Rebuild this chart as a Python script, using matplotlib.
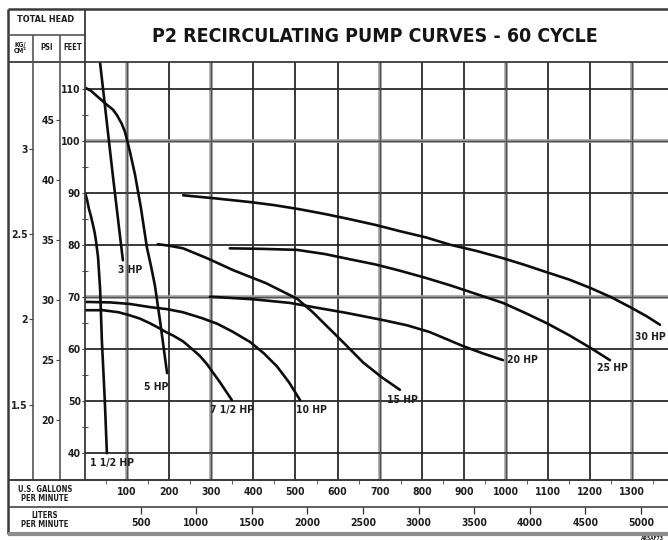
import os
import matplotlib
matplotlib.use("Agg")
import matplotlib.pyplot as plt
import matplotlib.font_manager as fm
from matplotlib.lines import Line2D
from matplotlib.font_manager import FontProperties

# ---------------- data (U.S. gpm, head in feet) ----------------
gpm_1_5 = [0, 5, 9, 14, 19, 23, 26, 31, 36, 40, 47, 52]
ft_1_5 = [90.0, 88.6, 87.0, 85.5, 83.8, 82.3, 80.8, 77.6, 71.3, 61.7, 50.1, 39.9]

gpm_3 = [33, 66, 90]
ft_3 = [117.0, 93.4, 77.0]

gpm_5 = [0, 14, 28, 52, 66, 76, 87, 95, 107, 119, 133, 147, 157, 166, 178, 195]
ft_5 = [110.2, 109.6, 108.6, 106.9, 106.0, 104.9, 103.3, 101.7, 97.8, 93.4, 87.0, 79.5,
        75.8, 72.2, 65.5, 55.3]

gpm_7_5 = [0, 43, 80, 107, 130, 154, 175, 190, 210, 233, 255, 273, 290, 305, 321, 335, 349]
ft_7_5 = [67.4, 67.4, 67.0, 66.4, 65.8, 64.9, 64.0, 63.3, 62.5, 61.4, 59.9, 58.6, 57.0,
          55.3, 53.5, 51.8, 50.1]

gpm_10 = [0, 60, 107, 154, 195, 233, 277, 314, 350, 392, 425, 456, 485, 511]
ft_10 = [69.0, 68.9, 68.6, 68.0, 67.6, 67.0, 65.9, 64.8, 63.3, 61.3, 59.1, 56.6, 53.5, 50.1]

gpm_15 = [173, 200, 233, 290, 352, 430, 504, 540, 575, 620, 660, 705, 748]
ft_15 = [80.1, 79.8, 79.3, 77.4, 75.1, 72.6, 69.6, 67.1, 64.3, 60.7, 57.4, 54.5, 52.1]

gpm_20 = [297, 400, 487, 542, 620, 708, 765, 819, 860, 898, 945, 993]
ft_20 = [70.0, 69.5, 68.8, 68.0, 66.9, 65.5, 64.5, 63.2, 61.8, 60.5, 59.1, 57.8]

gpm_25 = [344, 420, 504, 570, 629, 690, 748, 810, 867, 930, 993, 1045, 1097, 1150, 1200, 1247]
ft_25 = [79.3, 79.2, 79.0, 78.2, 77.2, 76.2, 75.0, 73.6, 72.2, 70.5, 68.8, 66.9, 64.9,
         62.6, 60.2, 57.8]

gpm_30 = [233, 310, 392, 450, 511, 570, 629, 690, 748, 810, 867, 930, 993, 1045, 1097,
          1150, 1200, 1250, 1295, 1335, 1366]
ft_30 = [89.5, 88.9, 88.2, 87.6, 86.8, 85.9, 84.9, 83.8, 82.6, 81.4, 80.0, 78.8, 77.4,
         76.1, 74.7, 73.3, 71.7, 69.9, 68.0, 66.2, 64.6]

curve_names = ["1 1/2 HP", "3 HP", "5 HP", "7 1/2 HP", "10 HP",
               "15 HP", "20 HP", "25 HP", "30 HP"]
curve_gpm = [gpm_1_5, gpm_3, gpm_5, gpm_7_5, gpm_10, gpm_15, gpm_20, gpm_25, gpm_30]
curve_ft = [ft_1_5, ft_3, ft_5, ft_7_5, ft_10, ft_15, ft_20, ft_25, ft_30]

# label anchor points (gpm, ft)
label_gpm = [64, 107, 169, 349, 539, 755, 1040, 1252, 1342]
label_ft = [38.0, 75.1, 52.6, 48.2, 48.2, 50.1, 57.8, 56.3, 62.2]

gpm_ticks = [100, 200, 300, 400, 500, 600, 700, 800, 900, 1000, 1100, 1200, 1300]
lpm_ticks = [500, 1000, 1500, 2000, 2500, 3000, 3500, 4000, 4500, 5000]
ft_ticks = [40, 50, 60, 70, 80, 90, 100, 110]
psi_ticks = [20, 25, 30, 35, 40, 45]
kg_ticks = [1.5, 2.0, 2.5, 3.0]
kg_labels = ["1.5", "2", "2.5", "3"]

title = "P2 RECIRCULATING PUMP CURVES - 60 CYCLE"

# ---------------- fonts ----------------
def pick_condensed_bold():
    order = ["dejavu", "liberation", "roboto", "noto", "open", "lato", "inter"]
    found = []
    for f in fm.fontManager.ttflist:
        base = os.path.basename(f.fname).lower()
        if ("condensed" in base or "narrow" in base) and "bold" in base:
            if any(b in base for b in ("semi", "extra", "ultra", "italic", "oblique", "light", "black")):
                continue
            rank = next((i for i, k in enumerate(order) if k in base), 99)
            found.append((rank, f.fname))
    if found:
        found.sort()
        return found[0][1]
    return None

cpath = pick_condensed_bold()

def fp(size):
    if cpath:
        return FontProperties(fname=cpath, size=size)
    return FontProperties(family="DejaVu Sans", weight="bold", size=size * 0.85)

TXT = "#1e1e1e"

# ---------------- figure ----------------
W, H = 668, 540
fig = plt.figure(figsize=(W / 100, H / 100), dpi=100)
fig.patch.set_facecolor("white")

def fx(x):
    return x / W

def fy(y):
    return 1 - y / H

def fline(x0, y0, x1, y1, color="#2a2a2a", lw=1.3):
    fig.add_artist(Line2D([fx(x0), fx(x1)], [fy(y0), fy(y1)], transform=fig.transFigure,
                          color=color, lw=lw, solid_capstyle="butt"))

L, R, T, B = 85, 668, 62, 480
ax = fig.add_axes([fx(L), fy(B), fx(R) - fx(L), fy(T) - fy(B)])
ax.set_xlim(0, 1385)
ax.set_ylim(34.75, 115.13)
for s in ax.spines.values():
    s.set_visible(False)
ax.set_facecolor("none")

# grid
gray_x = {100, 300, 700, 1000, 1300}
gray_y = {100, 70}
for g in gpm_ticks:
    if g in gray_x:
        ax.axvline(g, color="#a0a0a0", lw=2.6, zorder=1)
        ax.axvline(g, color="#505050", lw=0.9, zorder=1.1)
    else:
        ax.axvline(g, color="#2a2a2a", lw=1.3, zorder=1)
for f in ft_ticks:
    if f in gray_y:
        ax.axhline(f, color="#a0a0a0", lw=2.6, zorder=1)
        ax.axhline(f, color="#505050", lw=0.9, zorder=1.1)
    else:
        ax.axhline(f, color="#2a2a2a", lw=1.3, zorder=1)

# curves
for gx, fyv in zip(curve_gpm, curve_ft):
    ax.plot(gx, fyv, color="#0d0d0d", lw=1.9, solid_capstyle="round",
            solid_joinstyle="round", zorder=3)
for name, lx, ly in zip(curve_names, label_gpm, label_ft):
    ax.text(lx, ly, name, ha="center", va="center", color=TXT,
            fontproperties=fp(7.5), zorder=4)

# feet axis
ax.set_yticks(ft_ticks)
ax.set_yticklabels([str(v) for v in ft_ticks])
ax.set_yticks([45, 55, 65, 75, 85, 95, 105], minor=True)
ax.tick_params(axis="y", which="major", length=2, width=0.8, pad=1, color="#444")
ax.tick_params(axis="y", which="minor", length=4, width=0.8, direction="inout", color="#555")
for lab in ax.get_yticklabels():
    lab.set_fontproperties(fp(7.5))
    lab.set_color(TXT)

# gallons axis
ax.set_xticks(gpm_ticks)
ax.set_xticklabels([str(v) for v in gpm_ticks])
ax.set_xticks([50 + 100 * i for i in range(14)], minor=True)
ax.tick_params(axis="x", which="major", length=0, pad=5)
ax.tick_params(axis="x", which="minor", length=3, width=0.8, direction="out", color="#666")
for lab in ax.get_xticklabels():
    lab.set_fontproperties(fp(7.5))
    lab.set_color(TXT)

# psi axis
FT_PER_PSI = 2.31
sec_psi = ax.secondary_yaxis((60 - L) / (R - L),
                             functions=(lambda f: f / FT_PER_PSI, lambda p: p * FT_PER_PSI))
sec_psi.set_yticks(psi_ticks)
sec_psi.set_yticklabels([str(v) for v in psi_ticks])
sec_psi.tick_params(length=3, width=0.8, pad=1, color="#444")
for s in sec_psi.spines.values():
    s.set_visible(False)
for lab in sec_psi.get_yticklabels():
    lab.set_fontproperties(fp(7.5))
    lab.set_color(TXT)

# kg/cm2 axis
FT_PER_KG = 32.81
sec_kg = ax.secondary_yaxis((33 - L) / (R - L),
                            functions=(lambda f: f / FT_PER_KG, lambda k: k * FT_PER_KG))
sec_kg.set_yticks(kg_ticks)
sec_kg.set_yticklabels(kg_labels)
sec_kg.tick_params(length=3, width=0.8, pad=1, color="#444")
for s in sec_kg.spines.values():
    s.set_visible(False)
for lab in sec_kg.get_yticklabels():
    lab.set_fontproperties(fp(7.5))
    lab.set_color(TXT)

# liters axis
LPG = 3.785
sec_l = ax.secondary_xaxis(-(507 - B) / (B - T),
                           functions=(lambda g: g * LPG, lambda l: l / LPG))
sec_l.set_xticks(lpm_ticks)
sec_l.set_xticklabels([str(v) for v in lpm_ticks])
sec_l.tick_params(length=5, width=0.9, pad=3, color="#333")
for s in sec_l.spines.values():
    s.set_visible(False)
for lab in sec_l.get_xticklabels():
    lab.set_fontproperties(fp(7.5))
    lab.set_color(TXT)

# ---------------- frame / table lines ----------------
fline(8, 9, 668, 9, color="#3a3a3a", lw=1.8)          # top border
fline(8, 9, 8, 534, color="#3a3a3a", lw=1.8)          # left border
fline(8, 35, 85, 35, color="#555555", lw=1.2)          # header split
fline(8, 62, 668, 62, color="#3a3a3a", lw=1.3)         # top of plot
fline(85, 9, 85, 480, color="#3a3a3a", lw=1.3)         # plot left
fline(33, 35, 33, 480, color="#555555", lw=1.2)
fline(60, 35, 60, 480, color="#555555", lw=1.2)
fline(8, 480, 668, 480, color="#3a3a3a", lw=1.4)
fline(8, 507, 668, 507, color="#444444", lw=1.2)
fline(8, 534, 668, 534, color="#8c8c8c", lw=3.0)

# header texts
fig.text(fx(46), fy(19), "TOTAL HEAD", ha="center", va="center", color=TXT, fontproperties=fp(6.5))
fig.text(fx(20), fy(48), "KG/\nCM²", ha="center", va="center", color=TXT,
         fontproperties=fp(4.8), linespacing=0.9)
fig.text(fx(47), fy(47), "PSI", ha="center", va="center", color=TXT, fontproperties=fp(5.5))
fig.text(fx(73), fy(47), "FEET", ha="center", va="center", color=TXT, fontproperties=fp(5.5))
fig.text(fx(45), fy(494), "U.S. GALLONS\nPER MINUTE", ha="center", va="center", color=TXT,
         fontproperties=fp(5.5), linespacing=0.95)
fig.text(fx(45), fy(520), "LITERS\nPER MINUTE", ha="center", va="center", color=TXT,
         fontproperties=fp(5.5), linespacing=0.95)
fig.text(fx(664), fy(538), "AR5AF73", ha="right", va="center", color=TXT, fontproperties=fp(3.6))

t = fig.text(fx(375), fy(36), title, ha="center", va="center", color="#151515",
             fontproperties=fp(16))
fig.canvas.draw()
w = t.get_window_extent().width
t.set_fontsize(16 * 446 / w)

fig.savefig("out.png", dpi=100, facecolor="white")
